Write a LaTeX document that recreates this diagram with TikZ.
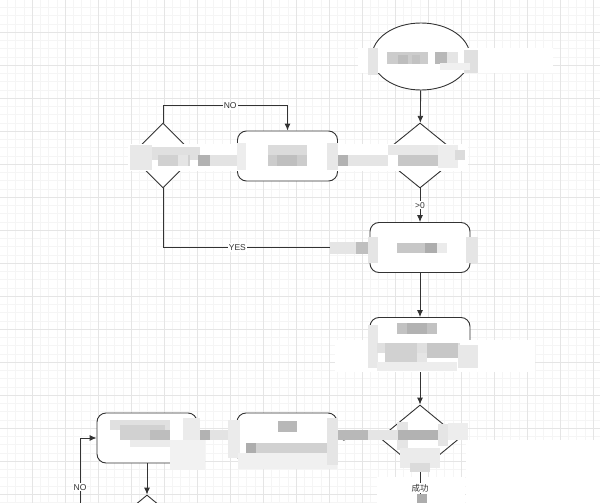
\documentclass[tikz,border=0pt]{standalone}
\usepackage{fontspec}
\setmainfont{Liberation Sans}
\newfontfamily\cjk{Noto Sans CJK SC}
\usetikzlibrary{shapes.geometric,arrows.meta}

\begin{document}
\begin{tikzpicture}[x=1pt, y=-1pt, >={Latex[length=7pt,width=6pt]},
    line/.style={draw=black!80, line width=0.9pt},
    proc/.style={draw=black!80, line width=0.9pt, fill=white, rounded corners=9pt,
        minimum width=100pt, minimum height=50pt, inner sep=0pt},
    decision/.style={diamond, draw=black!80, line width=0.9pt, fill=white,
        minimum width=80pt, minimum height=65pt, inner sep=0pt},
    terminal/.style={ellipse, draw=black!80, line width=0.9pt, fill=white,
        minimum width=98pt, minimum height=67pt, inner sep=0pt},
    lbl/.style={fill=white, inner sep=1pt, text=black!80, font=\fontsize{8.5}{10}\selectfont},
    gridminor/.style={draw=black!4, line width=0.4pt},
    gridmajor/.style={draw=black!10, line width=0.6pt}]

    % 1. Background grid
    \clip (0,0) rectangle (600,503);
    \fill[white] (0,0) rectangle (600,503);
    \foreach \i in {0,...,73} \draw[gridminor] ({-1+8.25*\i},0) -- ++(0,503);
    \foreach \i in {0,...,61} \draw[gridminor] (0,{-1+8.25*\i}) -- ++(600,0);
    \foreach \i in {0,...,18} \draw[gridmajor] ({-1+33*\i},0) -- ++(0,503);
    \foreach \i in {0,...,15} \draw[gridmajor] (0,{-1+33*\i}) -- ++(600,0);

    % blank areas under the bottom right
    \fill[white] (466,440) rectangle (600,503);
    \fill[white] (377,477) rectangle (465,503);

    % 2. Shapes
    \node[terminal] (start) at (421,56.5) {};
    \node[decision] (d1) at (420,155.5) {};
    \node[decision, minimum width=65pt] (d2) at (163,155.5) {};
    \node[proc] (p1) at (287.5,156) {};
    \node[proc] (p2) at (420,247.5) {};
    \node[proc] (p3) at (420,342.5) {};
    \node[decision, minimum height=66pt] (d3) at (420,438) {};
    \node[proc] (p4) at (287,438) {};
    \node[proc] (p5) at (147,438) {};
    \node[decision, minimum height=66pt] (d4) at (147,528) {};
    \coordinate (noin) at (80,515);
    \coordinate (outd3) at (420,515);

    % 3. Connectors
    \draw[line, ->] (start) -- (d1);
    \draw[line, ->] (d1) -- node[lbl] {>0} (p2);
    \draw[line, ->] (d1) -- (p1);
    \draw[line, ->] (p1) -- (d2);
    \draw[line, ->] (d2.north) -- ++(0,-17) -| node[lbl, pos=0.27] {NO} (p1.north);
    \draw[line, ->] (d2.south) |- node[lbl, pos=0.68] {YES} (p2.west);
    \draw[line, ->] (p2) -- (p3);
    \draw[line, ->] (p3) -- (d3);
    \draw[line, ->] (d3) -- (p4);
    \draw[line, ->] (p4) -- (p5);
    \draw[line, ->] (p5) -- (d4);
    \draw[line, ->] (noin) |- node[lbl, pos=0.18] {NO} (p5.west);
    \draw[line] (d3) -- node[lbl, pos=0.38] {\cjk 成功} (outd3);

    % 4. Blurred labels (x1/y1/x2/y2/shade)
    \foreach \xa/\ya/\xb/\yb/\k in {
        358/48/553/73/0, 368/48/378/75/10, 387/52/428/64/20, 398/55/408/64/26,
        412/55/420/64/24, 435/52/447/64/28, 447/52/458/64/10, 464/50/478/73/12,
        440/63/470/70/6,
        128/144/468/171/0, 130/145/152/170/9, 152/147/200/160/12, 158/155/190/166/18,
        178/155/188/166/10, 198/155/210/166/30, 210/155/238/166/11, 237/143/246/170/7,
        268/145/307/155/14, 268/155/307/166/20, 277/155/297/166/25, 327/143/338/170/9,
        338/155/348/166/30, 348/155/388/166/10, 388/145/438/155/9, 398/155/438/166/22,
        438/145/458/168/7, 455/150/465/160/14,
        330/242/368/254/10, 356/242/368/254/25, 368/237/378/263/10, 397/243/437/253/22,
        425/243/437/253/32, 437/243/447/253/8, 466/237/478/263/10,
        397/323/437/334/24, 407/323/427/334/30, 335/340/535/372/0, 368/325/378/368/9,
        377/343/460/353/12, 385/343/417/363/18, 427/343/458/358/22, 417/353/427/363/10,
        458/345/478/368/9, 377/362/457/371/7,
        110/420/170/430/12, 120/425/165/440/18, 150/430/170/440/26, 130/440/175/447/8,
        183/418/200/460/8, 170/440/205/470/5, 200/430/210/440/30, 210/430/228/440/11,
        228/420/240/458/8, 278/421/297/432/28, 246/443/330/453/18, 246/443/256/453/32,
        238/453/337/469/6, 327/418/338/465/10, 338/430/368/440/28, 368/430/398/440/10,
        397/422/408/450/10, 398/430/438/440/30, 438/424/448/446/10, 448/423/468/440/7,
        400/448/440/468/8, 410/463/430/472/14, 417/494/427/503/32}
        \fill[black!\k] (\xa,\ya) rectangle (\xb,\yb);

\end{tikzpicture}
\end{document}
